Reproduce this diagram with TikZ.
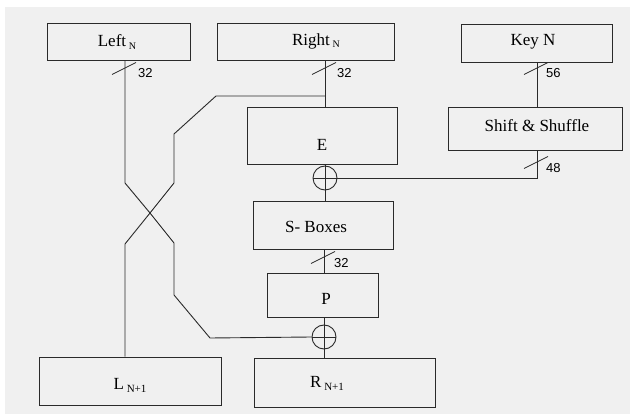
\documentclass[tikz,border=0pt]{standalone}
\usepackage{fontspec}
\setmainfont{Liberation Serif}
\newfontfamily\numfont{Liberation Sans}
\definecolor{bgc}{HTML}{F0F0F0}
\definecolor{linec}{HTML}{2A2A2A}
\begin{document}
\begin{tikzpicture}[x=1pt,y=-1pt,
  box/.style={draw=linec, line width=0.9pt, rectangle, inner sep=0pt},
  txt/.style={font=\fontsize{17}{20}\selectfont, inner sep=0pt, text=black},
  wire/.style={draw=linec, line width=0.9pt},
  busnum/.style={font=\numfont\fontsize{13}{15}\selectfont, inner sep=0pt, anchor=west},
  xorc/.style={circle, draw=linec, line width=0.9pt, minimum size=24pt, inner sep=0pt,
    path picture={\draw[linec, line width=0.9pt] (path picture bounding box.north) -- (path picture bounding box.south) (path picture bounding box.west) -- (path picture bounding box.east);}}
]
\useasboundingbox (0,0) rectangle (630,414);
\fill[white] (0,0) rectangle (630,414);
\fill[bgc] (5,7) rectangle (630,414);

% boxes
\node[box, minimum width=143pt, minimum height=37pt] (LeftN) at (118.5,41.5) {};
\node[box, minimum width=177pt, minimum height=37pt] (RightN) at (305.5,41.5) {};
\node[box, minimum width=151pt, minimum height=38pt] (KeyN) at (536.5,43) {};
\node[box, minimum width=174pt, minimum height=43pt] (Shift) at (535,128.5) {};
\node[box, minimum width=150pt, minimum height=57pt] (E) at (322,135.5) {};
\node[box, minimum width=140pt, minimum height=48pt] (SB) at (323,225) {};
\node[box, minimum width=111pt, minimum height=44pt] (P) at (322.5,295) {};
\node[box, minimum width=182pt, minimum height=48pt] (LN1) at (130,381) {};
\node[box, minimum width=181pt, minimum height=49pt] (RN1) at (344.5,382.5) {};
\node[xorc] (X1) at (325,178) {};
\node[xorc] (X2) at (324,337) {};

% texts
\node[txt] (tLeftN) at (117,42) {Left\,\raisebox{-2.5pt}{\fontsize{10}{10}\selectfont N}};
\node[txt] (tRightN) at (316,41) {Right\,\raisebox{-2.5pt}{\fontsize{10}{10}\selectfont N}};
\node[txt] (tKeyN) at (533,42) {Key N};
\node[txt] (tShift) at (537,126) {Shift \& Shuffle};
\node[txt] (tE) at (322,144.5) {E};
\node[txt] (tSB) at (316,227) {S- Boxes};
\node[txt] (tP) at (326,299) {P};
\node[txt] (tLN1) at (130,385) {L\,\raisebox{-3pt}{\fontsize{11}{11}\selectfont N+1}};
\node[txt] (tRN1) at (327,383) {R\,\raisebox{-3pt}{\fontsize{11}{11}\selectfont N+1}};

% bend coordinates
\coordinate (a1) at (125,183);
\coordinate (cr) at (150,213);
\coordinate (a2) at (174,243);
\coordinate (a3) at (174,295);
\coordinate (a4) at (210,338);
\coordinate (b0) at (325,96);
\coordinate (b1) at (216,96);
\coordinate (b2) at (174,134);
\coordinate (b3) at (174,183);
\coordinate (b4) at (125,244);
\coordinate (kx) at (537,0);

% wires
\draw[wire] (LeftN.south -| a1) -- (a1) -- (cr) -- (a2) -- (a3) -- (a4) -- (X2.west);
\draw[wire] (b0) -- (b1) -- (b2) -- (b3) -- (cr) -- (b4) -- (LN1.north -| b4);
\draw[wire] (RightN.south -| X1) -- (E.north -| X1);
\draw[wire] (E.south -| X1) -- (X1.north);
\draw[wire] (X1.south) -- (SB.north -| X1);
\draw[wire] (KeyN.south -| kx) -- (Shift.north -| kx);
\draw[wire] (Shift.south -| kx) -- (X1 -| kx) -- (X1.east);
\draw[wire] (SB.south -| X2) -- (P.north -| X2);
\draw[wire] (P.south -| X2) -- (X2.north);
\draw[wire] (X2.south) -- (RN1.north -| X2);

% bus width marks
\coordinate (s1) at (125,68);
\coordinate (s2) at (325,68);
\coordinate (s3) at (537,68);
\coordinate (s4) at (537,162);
\coordinate (s5) at (324,257);
\foreach \s in {s1,s2,s3,s4,s5}
  \draw[wire, line width=0.8pt] ([shift={(-13,6.5)}]\s) -- ([shift={(11,-5.5)}]\s);
\node[busnum] (n1) at (138,73) {32};
\node[busnum] (n2) at (337,73) {32};
\node[busnum] (n3) at (546,73) {56};
\node[busnum] (n4) at (546,168) {48};
\node[busnum] (n5) at (334,263) {32};
\end{tikzpicture}
\end{document}
